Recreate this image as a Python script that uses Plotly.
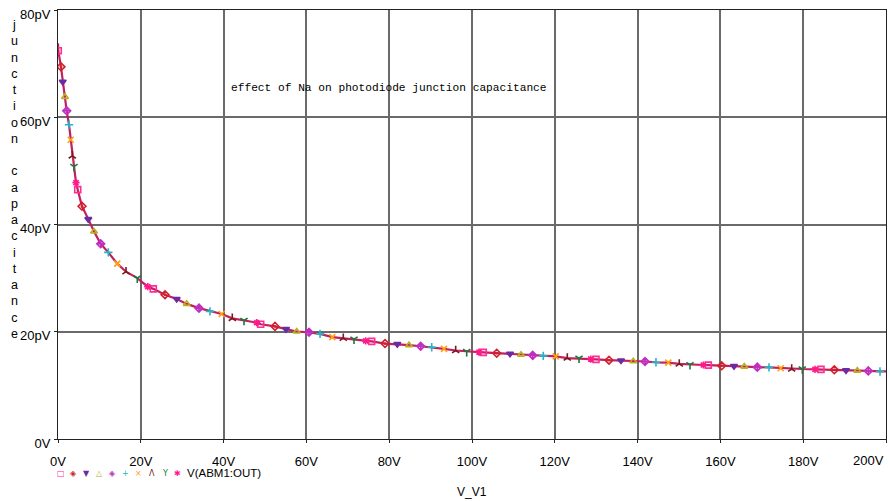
import plotly.graph_objects as go

# ---- data (V in volts, C in pF) ----
voltage = [0.0, 0.07, 0.72, 1.14, 1.69, 2.10, 2.66, 3.07, 3.45, 3.86, 4.35,
           4.76, 5.80, 7.32, 8.70, 10.31, 12.15, 14.32, 16.43, 19.15, 21.67,
           23.02, 25.85, 28.67, 31.09, 34.06, 36.71, 39.54, 42.10, 44.93, 48.00,
           48.96, 52.42, 55.07, 57.66, 60.63, 63.29, 66.26, 68.91, 71.50, 74.32,
           75.77, 78.99, 81.96, 84.78, 87.60, 90.27, 93.24, 96.06, 98.72, 101.69,
           102.73, 105.97, 109.18, 111.84, 114.66, 117.22, 120.22, 123.02, 125.85, 128.67,
           129.95, 133.09, 135.99, 138.96, 141.79, 144.44, 147.42, 150.07, 152.66, 155.87,
           157.08, 160.31, 163.29, 165.77, 168.91, 171.74, 174.57, 177.22, 179.78, 182.85,
           184.30, 187.51, 190.34, 193.07, 195.72, 198.55, 200.0]
capacitance = [73.8, 72.4, 69.4, 66.6, 63.8, 61.2, 58.6, 55.8, 52.8, 50.8, 47.8,
               46.5, 43.4, 41.0, 38.7, 36.4, 34.8, 32.7, 31.2, 30.0, 28.4,
               28.0, 26.9, 26.1, 25.2, 24.4, 23.8, 23.3, 22.5, 22.1, 21.7,
               21.4, 21.0, 20.5, 20.05, 19.9, 19.6, 19.0, 18.8, 18.6, 18.3,
               18.2, 17.8, 17.7, 17.5, 17.3, 17.1, 16.8, 16.5, 16.3, 16.2,
               16.15, 16.0, 15.9, 15.7, 15.6, 15.5, 15.4, 15.1, 15.05, 14.9,
               14.85, 14.7, 14.65, 14.5, 14.45, 14.3, 14.25, 14.0, 13.85, 13.8,
               13.78, 13.65, 13.6, 13.5, 13.4, 13.35, 13.2, 13.05, 13.05, 13.0,
               12.98, 12.9, 12.8, 12.75, 12.7, 12.6, 12.6]

x_ticks = [0, 20, 40, 60, 80, 100, 120, 140, 160, 180, 200]
x_tick_text = ["0V", "20V", "40V", "60V", "80V", "100V", "120V", "140V", "160V", "180V", "200V"]
y_ticks = [0, 20, 40, 60, 80]
y_tick_text = ["0V", "20pV", "40pV", "60pV", "80pV"]

trace_symbols = ["square-open", "diamond-open-dot", "triangle-down", "triangle-up-open",
                 "diamond-cross-open", "cross-thin-open", "x-thin-open", "y-up-open",
                 "y-down-open", "asterisk-open"]
trace_colors = ["#ff2d95", "#d0202a", "#6a2ca0", "#b8b020", "#c030c0",
                "#20b8c8", "#ffa010", "#7a1a1a", "#1a7a3a", "#ff1a8c"]
legend_glyphs = ["□", "◈", "▼", "△", "◈", "+", "×", "Λ", "Y", "✱"]
series_name = "V(ABM1:OUT)"
title_text = "effect of Na on photodiode junction capacitance"
x_title = "V_V1"
y_title = "junction capacitance"

SANS = "Liberation Sans, Arial, sans-serif"

fig = go.Figure()

# curve line (all traces overlap)
fig.add_trace(go.Scatter(x=voltage, y=capacitance, mode="lines",
                         line=dict(color="#c2205e", width=2.2),
                         showlegend=False, hoverinfo="skip"))

for k in range(10):
    idx = [i for i in range(1, len(voltage) - 1) if (i - 1) % 10 == k]
    fig.add_trace(go.Scatter(
        x=[voltage[i] for i in idx], y=[capacitance[i] for i in idx],
        mode="markers", showlegend=False,
        marker=dict(symbol=trace_symbols[k], size=6, color=trace_colors[k],
                    line=dict(color=trace_colors[k], width=1.6))))

axis_common = dict(showgrid=True, gridcolor="#6a6a6a", gridwidth=1.5,
                   showline=True, linecolor="#222", linewidth=1, mirror=True,
                   zeroline=False, ticks="outside", ticklen=3, tickcolor="#222",
                   ticklabeloverflow="allow",
                   tickfont=dict(family=SANS, size=13, color="#000"))

# last x label is drawn right-aligned at the plot edge (as in the reference)
x_tick_text_axis = x_tick_text[:-1] + [""]
fig.update_xaxes(range=[0, 200], tickvals=x_ticks, ticktext=x_tick_text_axis,
                 ticklabelstandoff=7, **axis_common)
fig.update_yaxes(range=[0, 80], tickvals=y_ticks, ticktext=y_tick_text,
                 ticklabelstandoff=1, ticklabelshift=4, **axis_common)

ann = []
ann.append(dict(text=x_tick_text[-1], xref="paper", yref="paper", x=1, y=0,
                xanchor="right", yanchor="middle", yshift=-21, showarrow=False,
                font=dict(family=SANS, size=13, color="#000")))
ann.append(dict(text=title_text, xref="paper", yref="paper",
                x=(229 - 58) / 828, y=(439.3 - 88) / 429.3,
                xanchor="left", yanchor="middle", showarrow=False,
                font=dict(family="Liberation Mono, DejaVu Sans Mono, monospace", size=11.2, color="#000")))
ann.append(dict(text="<br>".join(list(y_title)), xref="paper", yref="paper",
                x=0, y=1, xshift=-44, yshift=-6, xanchor="center", yanchor="top",
                showarrow=False, align="center",
                font=dict(family=SANS, size=12.5, color="#000")))
for i, g in enumerate(legend_glyphs):
    ann.append(dict(text=g, xref="paper", yref="paper", x=0, y=0,
                    xshift=3 + 12.96 * i, yshift=-34, xanchor="center", yanchor="middle",
                    showarrow=False, borderpad=0,
                    font=dict(family="DejaVu Sans", size=8, color=trace_colors[i])))
ann.append(dict(text=series_name, xref="paper", yref="paper", x=0, y=0,
                xshift=186 - 58, yshift=-34, xanchor="left", yanchor="middle",
                showarrow=False, borderpad=0,
                font=dict(family=SANS, size=11.5, color="#000")))
ann.append(dict(text=x_title, xref="paper", yref="paper", x=0.5, y=0,
                yshift=-53, xanchor="center", yanchor="middle", showarrow=False,
                font=dict(family=SANS, size=12, color="#000")))

fig.update_layout(width=890, height=501, margin=dict(l=58, r=4, t=10, b=62),
                  plot_bgcolor="white", paper_bgcolor="white",
                  annotations=ann, showlegend=False)

fig.write_html("out.html")
